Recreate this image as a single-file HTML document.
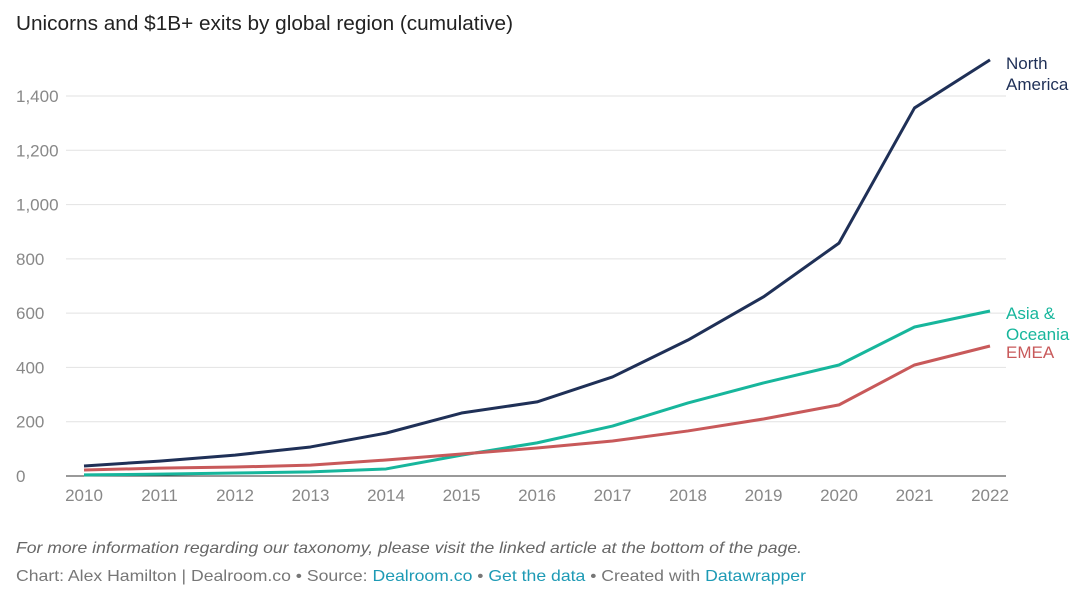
<!DOCTYPE html>
<html><head><meta charset="utf-8"><style>
body{margin:0;background:#fff;font-family:"Liberation Sans",sans-serif;}
svg text{font-family:"Liberation Sans",sans-serif;}
</style></head><body>
<svg id="c" width="1080" height="599">
<text x="16" y="30" font-size="20" fill="#222" textLength="497" lengthAdjust="spacingAndGlyphs">Unicorns and $1B+ exits by global region (cumulative)</text>
<g id="grid"></g><g id="lines"></g>
<text x="16" y="553" font-size="16" font-style="italic" fill="#666" textLength="786" lengthAdjust="spacingAndGlyphs">For more information regarding our taxonomy, please visit the linked article at the bottom of the page.</text>
<text x="16" y="581" font-size="16" fill="#777" textLength="790" lengthAdjust="spacingAndGlyphs">Chart: Alex Hamilton | Dealroom.co • Source: <tspan fill="#1d9ab5">Dealroom.co</tspan> • <tspan fill="#1d9ab5">Get the data</tspan> • Created with <tspan fill="#1d9ab5">Datawrapper</tspan></text>
</svg>
<script>
const years=[2010,2011,2012,2013,2014,2015,2016,2017,2018,2019,2020,2021,2022];
const northAmerica=[37,55,77,107,158,232,273,365,501,660,858,1356,1533];
const asiaOceania=[4,7,11,15,26,77,122,184,269,343,409,549,608];
const emea=[22,29,33,40,59,81,103,129,166,210,262,409,479];
const yTicks=[0,200,400,600,800,1000,1200,1400];
const yTickLabels=["0","200","400","600","800","1,000","1,200","1,400"];
const NS="http://www.w3.org/2000/svg";
const x=v=>84+(v-2010)*(990-84)/12;
const y=v=>476-v*(476-96)/1400;
function mk(t,a,p){const e=document.createElementNS(NS,t);for(const k in a)e.setAttribute(k,a[k]);p.appendChild(e);return e;}
const g=document.getElementById('grid'),L=document.getElementById('lines');
yTicks.forEach((t,i)=>{
 const l=mk('line',{x1:66,x2:1006,y1:y(t),y2:y(t),stroke:t===0?'#333':'#e2e2e2','stroke-width':1},g);
 
 
 const tx=mk('text',{x:16,y:y(t)+6,'font-size':17,fill:'#888'},g);tx.textContent=yTickLabels[i];
 
 
});
years.forEach(yr=>{
 const tx=mk('text',{x:x(yr),y:501,'font-size':17,fill:'#888','text-anchor':'middle'},g);tx.textContent=yr;
 
 
});
const series=[[northAmerica,'#1f3057','north-america-line',['North','America'],63],[asiaOceania,'#17b69c','asia-oceania-line',['Asia &','Oceania'],313],[emea,'#c8595a','emea-line',['EMEA'],352]];
series.forEach(([d,c,n,lab,ly])=>{
 const p=mk('polyline',{points:d.map((v,i)=>x(years[i])+','+y(v)).join(' '),fill:'none',stroke:c,'stroke-width':3,'stroke-linejoin':'round'},L);
 
 
 lab.forEach((s,i)=>{const t=mk('text',{x:1006,y:ly+6+i*21,'font-size':17,fill:c},L);t.textContent=s;
 
 });
});
</script>
</body></html>
